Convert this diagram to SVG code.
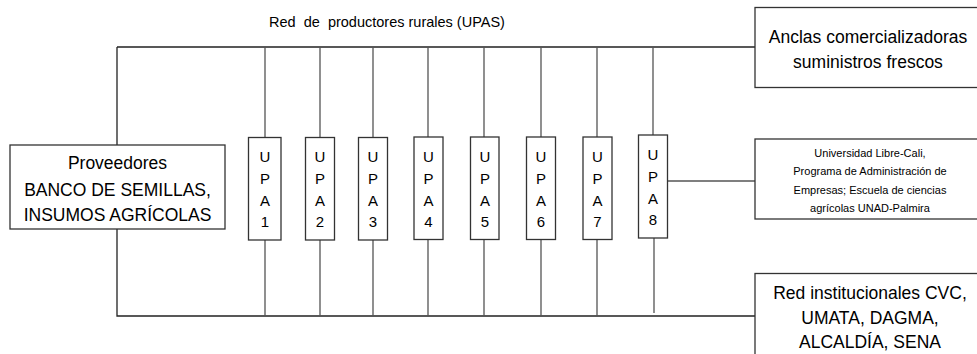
<svg xmlns="http://www.w3.org/2000/svg" width="977" height="354" viewBox="0 0 977 354">
<style>
  text { font-family: "Liberation Sans", Arial, sans-serif; fill: #000; text-anchor: middle; }
  .box { fill: #fff; stroke: #333; stroke-width: 1.3; }
  .ln { fill: none; stroke: #555; stroke-width: 1.3; }
  .main { fill: none; stroke: #222; stroke-width: 1.3; }
  .big { font-size: 17.5px; }
  .title { font-size: 14.5px; white-space: pre; }
  .upa { font-size: 15px; }
  .small { font-size: 11px; }
</style>
<rect width="977" height="354" fill="#fff"/>
<g id="connectors">
  <path class="main" d="M117 47 H755 M117 47 V145 M117 229 V316 H755"/>
  <path class="ln" d="M265 47 V137 M265 240 V316
    M320 47 V137 M320 240 V316
    M373 47 V137 M373 240 V316
    M428 47 V137 M428 239 V316
    M484 47 V137 M484 239 V316
    M541 47 V137 M541 239 V316
    M597 47 V137 M597 239 V316
    M653 47 V135 M654 238 V313
    M667 181 H755"/>
</g>
<text x="387" y="27" class="title" xml:space="preserve">Red  de  productores rurales (UPAS)</text>
<g id="proveedores">
  <rect class="box" x="10" y="145" width="215" height="84"/>
  <text x="117.5" y="169" class="big">Proveedores</text>
  <text x="117.5" y="196" class="big">BANCO DE SEMILLAS,</text>
  <text x="117.5" y="221" class="big">INSUMOS AGRÍCOLAS</text>
</g>
<g id="upa1"><rect class="box" x="248.5" y="137.5" width="32.5" height="102.5"/>
  <text class="upa" x="265" y="162">U</text><text class="upa" x="265" y="184">P</text><text class="upa" x="265" y="206">A</text><text class="upa" x="265" y="227">1</text></g>
<g id="upa2"><rect class="box" x="305.5" y="137.5" width="29" height="102.5"/>
  <text class="upa" x="320" y="162">U</text><text class="upa" x="320" y="184">P</text><text class="upa" x="320" y="206">A</text><text class="upa" x="320" y="227">2</text></g>
<g id="upa3"><rect class="box" x="358.5" y="137.5" width="29" height="102.5"/>
  <text class="upa" x="373" y="162">U</text><text class="upa" x="373" y="184">P</text><text class="upa" x="373" y="206">A</text><text class="upa" x="373" y="227">3</text></g>
<g id="upa4"><rect class="box" x="414" y="137" width="29" height="102.5"/>
  <text class="upa" x="428.5" y="162">U</text><text class="upa" x="428.5" y="184">P</text><text class="upa" x="428.5" y="206">A</text><text class="upa" x="428.5" y="227">4</text></g>
<g id="upa5"><rect class="box" x="470.5" y="137" width="28.5" height="102.5"/>
  <text class="upa" x="485" y="162">U</text><text class="upa" x="485" y="184">P</text><text class="upa" x="485" y="206">A</text><text class="upa" x="485" y="227">5</text></g>
<g id="upa6"><rect class="box" x="526.5" y="137" width="29" height="102.5"/>
  <text class="upa" x="541" y="162">U</text><text class="upa" x="541" y="184">P</text><text class="upa" x="541" y="206">A</text><text class="upa" x="541" y="227">6</text></g>
<g id="upa7"><rect class="box" x="583" y="137" width="29" height="102.5"/>
  <text class="upa" x="597.5" y="162">U</text><text class="upa" x="597.5" y="184">P</text><text class="upa" x="597.5" y="206">A</text><text class="upa" x="597.5" y="227">7</text></g>
<g id="upa8"><rect class="box" x="638.5" y="135" width="29" height="103"/>
  <text class="upa" x="653" y="160">U</text><text class="upa" x="653" y="182">P</text><text class="upa" x="653" y="204">A</text><text class="upa" x="653" y="225">8</text></g>
<g id="anclas">
  <rect class="box" x="755" y="7.5" width="230" height="80"/>
  <text x="868" y="43" class="big">Anclas comercializadoras</text>
  <text x="868" y="68" class="big">suministros frescos</text>
</g>
<g id="universidad">
  <rect class="box" x="755" y="139" width="230" height="80"/>
  <text x="870" y="157" class="small">Universidad Libre-Cali,</text>
  <text x="870" y="175" class="small">Programa de Administración de</text>
  <text x="870" y="194" class="small">Empresas; Escuela de ciencias</text>
  <text x="870" y="212" class="small">agrícolas UNAD-Palmira</text>
</g>
<g id="red">
  <rect class="box" x="755" y="273.5" width="230" height="90"/>
  <text x="870" y="299" class="big">Red institucionales CVC,</text>
  <text x="870" y="324" class="big">UMATA, DAGMA,</text>
  <text x="870" y="348" class="big">ALCALDÍA, SENA</text>
</g>
</svg>
